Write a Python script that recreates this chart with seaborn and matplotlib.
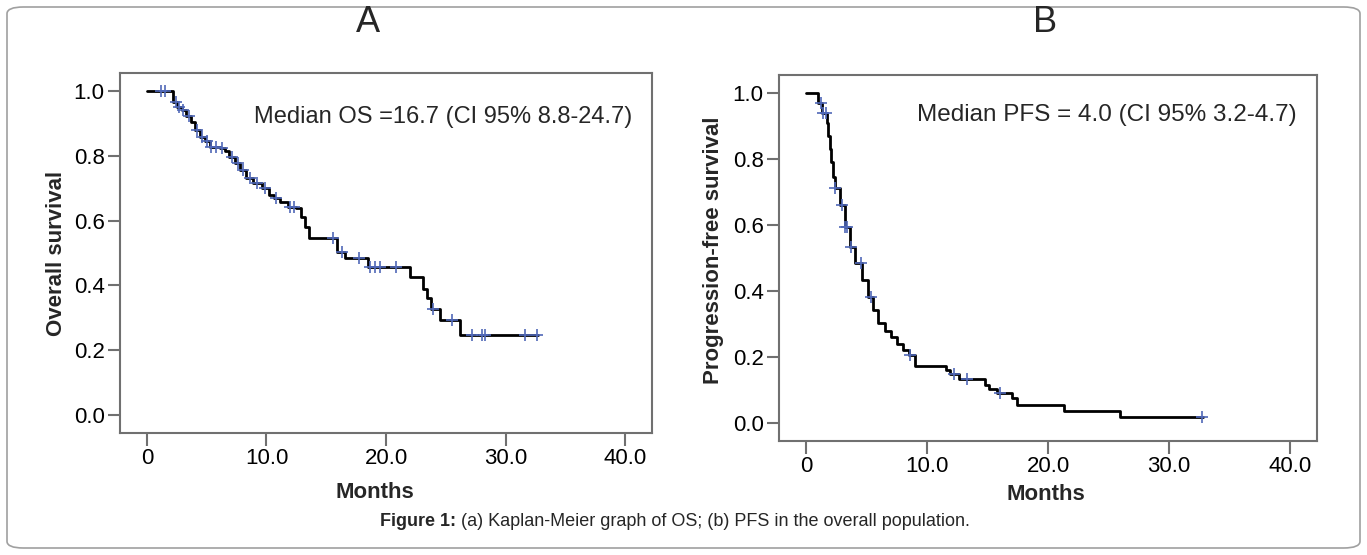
import numpy as np
import pandas as pd
import matplotlib
matplotlib.use("Agg")
import matplotlib.pyplot as plt
import seaborn as sns
from matplotlib.patches import FancyBboxPatch

#Kaplan-Meier step data
#Overall survival (panel A)
os_time = [0, 2.2, 2.5, 2.9, 3.3, 3.7, 4.0, 4.4, 4.85, 5.3, 6.1, 6.5, 6.9, 7.4, 7.8,
           8.3, 8.9, 9.6, 10.2, 10.6, 11.1, 11.8, 12.5, 12.9, 13.2, 13.6, 15.9, 16.6,
           18.5, 22.0, 23.1, 23.4, 23.8, 24.5, 26.2, 32.7]
os_surv = [1.0, 0.967, 0.951, 0.941, 0.921, 0.905, 0.880, 0.859, 0.844, 0.828, 0.823,
           0.813, 0.797, 0.777, 0.756, 0.730, 0.715, 0.700, 0.679, 0.669, 0.658, 0.643,
           0.638, 0.612, 0.581, 0.545, 0.504, 0.484, 0.458, 0.427, 0.390, 0.360, 0.327,
           0.293, 0.247, 0.247]
os_censor = [1.2, 1.5, 2.4, 2.7, 3.0, 3.5, 4.2, 4.6, 5.0, 5.4, 5.8, 6.3, 7.1, 7.6, 8.0,
             8.6, 9.2, 9.9, 10.8, 12.0, 12.3, 15.6, 16.3, 17.7, 18.7, 19.1, 19.5, 20.8,
             23.9, 25.5, 27.2, 28.0, 28.3, 31.6, 32.6]

#Progression-free survival (panel B)
pfs_time = [0, 1.0, 1.3, 1.7, 1.8, 1.95, 2.05, 2.2, 2.4, 2.8, 3.2, 3.6, 4.05, 4.6, 5.15,
            5.55, 5.95, 6.5, 7.0, 7.5, 8.0, 8.5, 9.0, 11.6, 11.9, 12.6, 14.8, 15.1,
            15.75, 17.0, 17.4, 21.3, 25.95, 32.8]
pfs_surv = [1.0, 0.97, 0.94, 0.908, 0.87, 0.83, 0.79, 0.746, 0.711, 0.661, 0.595, 0.534,
            0.484, 0.433, 0.383, 0.342, 0.302, 0.28, 0.26, 0.24, 0.22, 0.206, 0.173,
            0.161, 0.148, 0.133, 0.115, 0.102, 0.09, 0.075, 0.055, 0.037, 0.019, 0.019]
pfs_censor = [1.2, 1.4, 1.6, 2.4, 3.0, 3.2, 3.4, 3.7, 4.5, 5.4, 8.6, 12.2, 13.3, 16.0, 32.7]

x_ticks = [0, 10, 20, 30, 40]
x_tick_labels = ["0", "10.0", "20.0", "30.0", "40.0"]
y_ticks = [0.0, 0.2, 0.4, 0.6, 0.8, 1.0]
y_tick_labels = ["0.0", "0.2", "0.4", "0.6", "0.8", "1.0"]

sns.set_style("ticks")
plt.rcParams["font.family"] = ["Liberation Sans", "DejaVu Sans"]

W, H = 1367, 555
fig = plt.figure(figsize=(W / 100, H / 100), dpi=100)

#Rounded outer frame
frame = FancyBboxPatch((7 / W, 7 / H), 1353 / W, 541 / H,
                       boxstyle="round,pad=0,rounding_size=0.012",
                       transform=fig.transFigure, facecolor="none",
                       edgecolor="#a0a0a0", linewidth=1.2)
fig.patches.append(frame)

ax1 = fig.add_axes([120 / W, 1 - 433 / H, 532 / W, 360 / H])
ax2 = fig.add_axes([779 / W, 1 - 441 / H, 538 / W, 366 / H])

line_col = "black"
cens_col = "#5068b8"
spine_col = "#707070"


def km_panel(ax, t, s, cens, note, note_y, note_size):
    df = pd.DataFrame({"Months": t, "Survival": s})
    sns.lineplot(data=df, x="Months", y="Survival", ax=ax, color=line_col,
                 linewidth=2.0, drawstyle="steps-post", estimator=None)
    #censor marks sit on the step curve
    idx = np.searchsorted(t, cens, side="right") - 1
    cdf = pd.DataFrame({"Months": cens, "Survival": np.array(s)[idx]})
    sns.scatterplot(data=cdf, x="Months", y="Survival", ax=ax, marker="+",
                    color=cens_col, s=70, linewidth=1.2, zorder=3)
    ax.set_xlim(-2.25, 42.25)
    ax.set_ylim(-0.055, 1.055)
    ax.set_xticks(x_ticks)
    ax.set_xticklabels(x_tick_labels)
    ax.set_yticks(y_ticks)
    ax.set_yticklabels(y_tick_labels)
    ax.tick_params(axis="both", length=9, width=1.5, color=spine_col,
                   labelsize=16, labelcolor="black", pad=2)
    for sp in ax.spines.values():
        sp.set_visible(True)
        sp.set_color(spine_col)
        sp.set_linewidth(1.5)
    ax.set_xlabel("")
    ax.set_ylabel("")
    ax.text(0.962, note_y, note, transform=ax.transAxes, ha="right", va="center",
            fontsize=note_size)


km_panel(ax1, os_time, os_surv, os_censor,
         "Median OS =16.7 (CI 95% 8.8-24.7)", 0.878, 17)
km_panel(ax2, pfs_time, pfs_surv, pfs_censor,
         "Median PFS = 4.0 (CI 95% 3.2-4.7)", 0.89, 17.5)

#Panel letters, axis labels
fig.text(368 / W, 1 - 23 / H, "A", ha="center", va="center", fontsize=26)
fig.text(1045 / W, 1 - 23 / H, "B", ha="center", va="center", fontsize=26)
fig.text(57 / W, 1 - 253 / H, "Overall survival", rotation=90, ha="center",
         va="center", fontsize=16, fontweight="bold")
fig.text(713 / W, 1 - 250 / H, "Progression-free survival", rotation=90,
         ha="center", va="center", fontsize=16, fontweight="bold")
fig.text(375 / W, 1 - 492 / H, "Months", ha="center", va="center",
         fontsize=16, fontweight="bold")
fig.text(1046 / W, 1 - 494 / H, "Months", ha="center", va="center",
         fontsize=16, fontweight="bold")

#Caption: bold lead-in followed by regular text, centred as one line
renderer = fig.canvas.get_renderer()
cap_bold = fig.text(0, 1 - 522 / H, "Figure 1:", ha="left", va="center",
                    fontsize=13, fontweight="bold")
cap_rest = fig.text(0, 1 - 522 / H,
                    " (a) Kaplan-Meier graph of OS; (b) PFS in the overall population.",
                    ha="left", va="center", fontsize=13)
wb = cap_bold.get_window_extent(renderer).width
wr = cap_rest.get_window_extent(renderer).width
x0 = 675 - (wb + wr) / 2
cap_bold.set_x(x0 / W)
cap_rest.set_x((x0 + wb) / W)

fig.savefig("out.png", dpi=100)
